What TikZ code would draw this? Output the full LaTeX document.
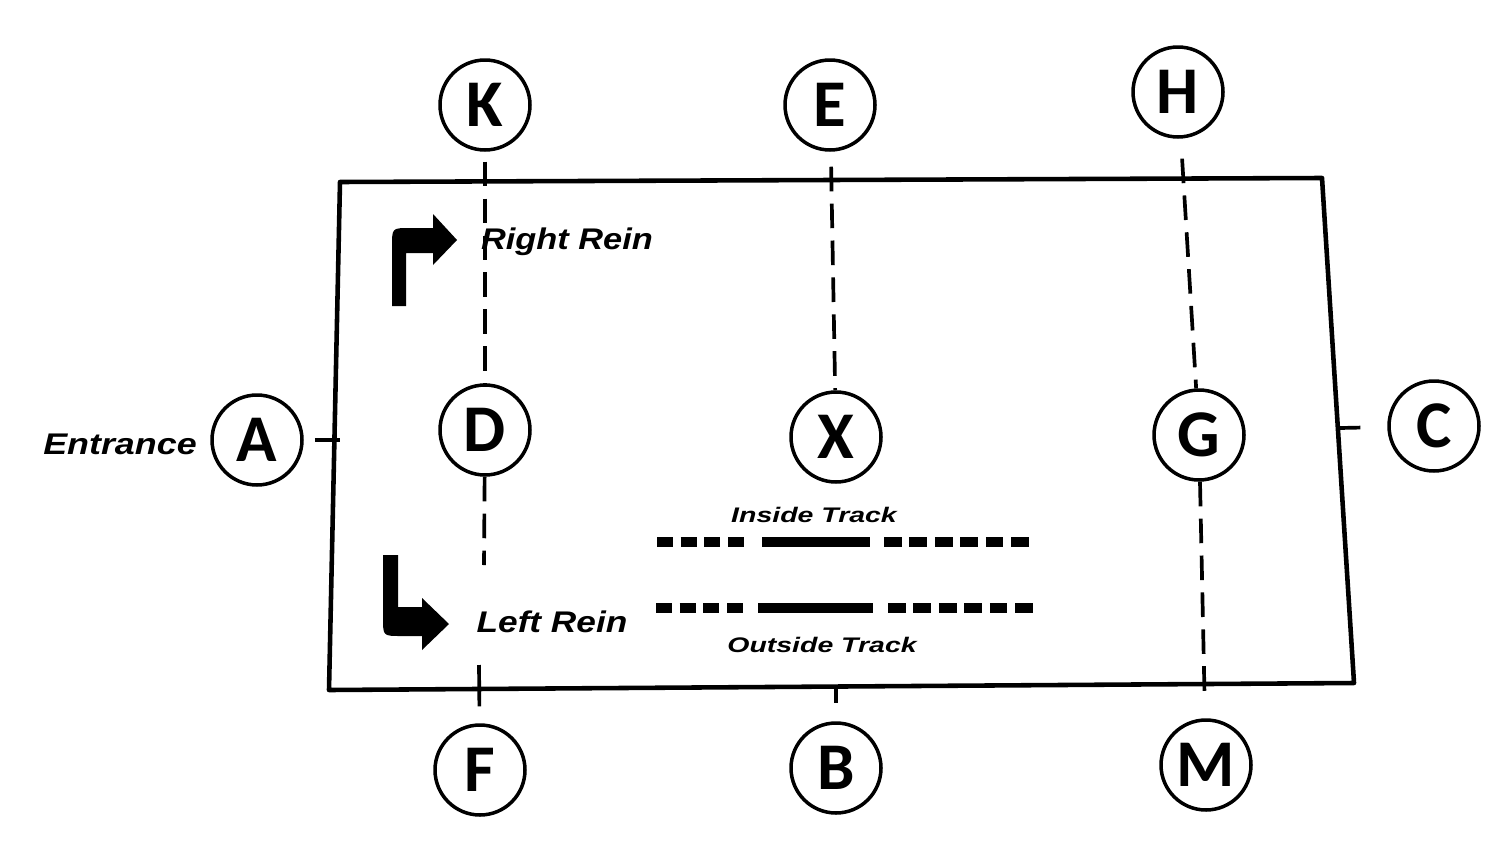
\documentclass[tikz,border=0pt]{standalone}
\usepackage{fontspec}
\setmainfont{Liberation Sans}
\newfontfamily\letfont{Carlito}
\begin{document}
\begin{tikzpicture}[x=0.02cm,y=-0.02cm,
 mk/.style={circle,draw,line width=2pt,minimum size=1.8cm,inner sep=0pt,font=\letfont\bfseries\fontsize{38}{40}\selectfont},
 rail/.style={line width=2.6pt,line join=round},
 dline/.style={line width=2.1pt,dash pattern=on 14pt off 7pt},
 tick/.style={line width=2.1pt},
 big/.style={inner sep=0pt,font=\bfseries\itshape\fontsize{17}{20}\selectfont},
 small/.style={inner sep=0pt,font=\bfseries\itshape\fontsize{12}{14}\selectfont},
 trk/.style={line width=5.5pt,line cap=butt}]
\useasboundingbox (0,0) rectangle (1510,852);
% arena
\draw[rail] (340,182) -- (1322,178) -- (1354,683) -- (329,690) -- cycle;
% markers
\node[mk] (K) at (485,105) {K};
\node[mk] (E) at (830,105) {E};
\node[mk] (H) at (1178,92) {H};
\node[mk] (A) at (257,440) {A};
\node[mk] (D) at (485,430) {D};
\node[mk] (X) at (836,437) {X};
\node[mk] (G) at (1199,435) {G};
\node[mk] (C) at (1434,426) {C};
\node[mk] (F) at (480,770) {F};
\node[mk] (B) at (836,768) {B};
\node[mk] (M) at (1206,765) {M};
% free ends
\coordinate (dF) at (484,565);
\coordinate (fT) at (479,665);
\coordinate (bT) at (836,688);
\coordinate (aT) at (340,440);
\coordinate (cT) at (1340,428);
% lines
\draw[dline,shorten <=0.2cm] (K) -- (D);
\draw[dline] (D) -- (dF);
\draw[tick,shorten >=0.34cm] (fT) -- (F);
\draw[dline,shorten <=0.3cm] (E) -- (X);
\draw[dline,shorten <=0.4cm] (H) -- (G);
\draw[dline,shorten >=0.4cm] (G) -- (M);
\draw[tick,shorten >=0.36cm] (bT) -- (B);
\draw[tick,shorten <=0.22cm] (A) -- (aT);
\draw[tick,shorten >=0.54cm] (cT) -- (C);
% rein arrows
\fill (392,306) -- (392,246) .. controls (392,228) .. (410,228) -- (433,228) -- (433,214) -- (457,240) -- (433,265) -- (433,253) -- (406,253) -- (406,306) -- cycle;
\fill (383,555) -- (398,555) -- (398,607) -- (422,607) -- (422,598) -- (449,624) -- (422,650) -- (422,636) -- (401,636) .. controls (383,636) .. (383,618) -- cycle;
% track legend
\draw[trk,dash pattern=on 9pt off 4.5pt] (657,542) -- (748,542);
\draw[trk] (762,542) -- (870,542);
\draw[trk,dash pattern=on 10pt off 4.5pt] (884,542) -- (1029,542);
\draw[trk,dash pattern=on 9pt off 4.5pt] (656,608) -- (747,608);
\draw[trk] (758,608) -- (873,608);
\draw[trk,dash pattern=on 10pt off 4.5pt] (888,608) -- (1033,608);
% labels
\node[big] (entr) at (120,444) {\scalebox{1.2}[1]{Entrance}};
\node[big] (rr) at (567,242) {\scalebox{1.15}[1]{Right Rein}};
\node[big] (lr) at (552,622) {\scalebox{1.18}[1]{Left Rein}};
\node[small] (it) at (814,515) {\scalebox{1.35}[1]{Inside Track}};
\node[small] (ot) at (822,645) {\scalebox{1.35}[1]{Outside Track}};
\end{tikzpicture}
\end{document}
